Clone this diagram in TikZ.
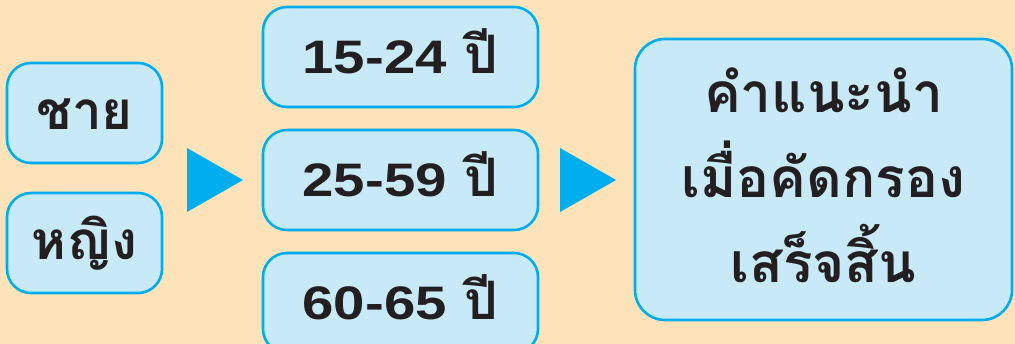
\documentclass[tikz,border=0pt]{standalone}
\usepackage{fontspec}
\newfontfamily\thaifont[Script=Thai]{Loma}
\newfontfamily\numfont[FakeStretch=1.2]{Liberation Sans}
\definecolor{paper}{HTML}{FDE3BA}
\definecolor{boxfill}{HTML}{C8E9F8}
\definecolor{boxline}{HTML}{00AEEF}
\definecolor{ink}{HTML}{231F20}
\newcommand\agetext[1]{{\numfont\fontsize{47}{85}\selectfont#1}\ ปี}
\begin{document}
\begin{tikzpicture}[x=1pt,y=-1pt,
  box/.style={draw=boxline,fill=boxfill,line width=2.6pt,rounded corners=24pt,
    inner sep=0pt,text=ink,font=\thaifont\bfseries\fontsize{53}{85}\selectfont,
    text height=34pt,text depth=0pt},
  tri/.style={fill=boxline}]
\useasboundingbox(0,0)rectangle(1015,344);
\fill[paper](0,0)rectangle(1015,344);
\clip(0,0)rectangle(1015,344);
% sex
\node[box,minimum width=155pt,minimum height=100pt](male)at(84.5,113){ชาย};
\node[box,minimum width=155pt,minimum height=100pt](female)at(84.5,243){หญิง};
\fill[tri](187,148)--(243,180)--(187,212)--cycle;
% age groups
\foreach \n/\y/\t in{agea/57/15-24,ageb/180/25-59,agec/303/60-65}
  \node[box,minimum width=275pt,minimum height=100pt](\n)at(400.5,\y){\agetext{\t}};
\fill[tri](560,148)--(616,180)--(560,212)--cycle;
% advice
\node[box,minimum width=377pt,minimum height=281pt,rounded corners=30pt,
  text height=,text depth=](advice)at(823.5,179.5){};
\node[text=ink,font=\thaifont\bfseries\fontsize{55}{85}\selectfont,align=center,inner sep=0pt,
  yshift=4pt](advicetext)at(advice.center){คำแนะนำ\\เมื่อคัดกรอง\\เสร็จสิ้น};
\end{tikzpicture}
\end{document}
